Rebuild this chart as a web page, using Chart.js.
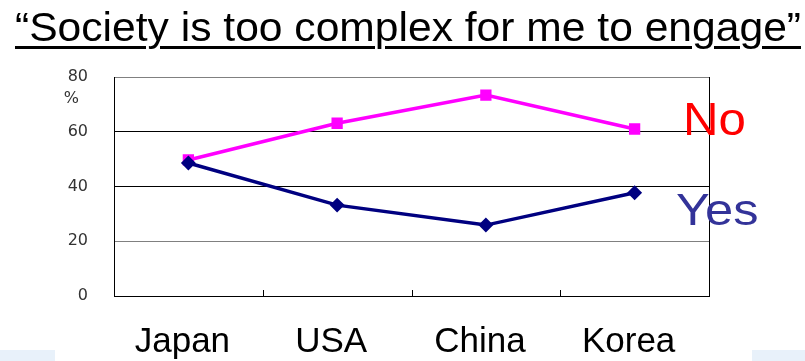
<!DOCTYPE html>
<html><head><meta charset="utf-8">
<script src="https://cdn.jsdelivr.net/npm/chart.js@4/dist/chart.umd.min.js"></script>
<style>
html,body{margin:0;padding:0;background:#fff;}
#wrap{position:relative;width:805px;height:361px;overflow:hidden;font-family:"Liberation Sans",Arial,sans-serif;}
#c{position:absolute;left:0;top:0;}
#title{position:absolute;left:15px;top:4px;font-size:41px;line-height:46px;color:#000;white-space:nowrap;text-decoration:underline;text-decoration-thickness:2.5px;text-underline-offset:5px;transform-origin:0 0;}
.lbl{position:absolute;white-space:nowrap;line-height:1;transform-origin:0 0;}
.bg{position:absolute;background:#e8f1fa;}
</style></head>
<body><div id="wrap">
<div class="bg" style="left:0;top:350px;width:55px;height:11px"></div>
<div class="bg" style="left:752px;top:350px;width:53px;height:11px"></div>
<canvas id="c" width="805" height="361"></canvas>
<div id="title">“Society is too complex for me to engage”</div>
<div class="lbl" style="left:683px;top:96px;font-size:46px;color:#ff0000;transform:scaleX(1.07)">No</div>
<div class="lbl" style="left:676px;top:188px;font-size:44px;color:#333399;transform:scaleX(1.15)">Yes</div>
</div>
<script>
const categories = ["Japan", "USA", "China", "Korea"];
const noValues = [49.7, 63.1, 73.4, 61.0];
const yesValues = [48.6, 33.2, 25.9, 37.7];
const yTicks = [0, 20, 40, 60, 80];

(function(){
  const t = document.getElementById('title');
  const w = t.getBoundingClientRect().width;
  t.style.transform = 'scaleX(' + (786 / w) + ')';
})();

const innerTicks = {
  id: 'innerTicks',
  afterDraw(chart) {
    const {ctx, chartArea, scales} = chart;
    const x = scales.x, y = scales.y;
    ctx.save();
    ctx.strokeStyle = '#000';
    ctx.lineWidth = 1;
    for (let i = 0; i < categories.length - 1; i++) {
      const px = Math.round((x.getPixelForValue(i) + x.getPixelForValue(i + 1)) / 2) + 0.5;
      ctx.beginPath();
      ctx.moveTo(px, chartArea.bottom);
      ctx.lineTo(px, chartArea.bottom - 6);
      ctx.stroke();
    }
    ctx.beginPath();
    ctx.moveTo(Math.round(chartArea.right) + 0.5, chartArea.top);
    ctx.lineTo(Math.round(chartArea.right) + 0.5, chartArea.bottom);
    ctx.stroke();
    ctx.fillStyle = '#333';
    ctx.font = '16px "DejaVu Sans", sans-serif';
    ctx.textAlign = 'right';
    ctx.textBaseline = 'middle';
    ctx.fillText('%', 79, y.getPixelForValue(80) + 22);
    ctx.restore();
  }
};

new Chart(document.getElementById('c'), {
  type: 'line',
  data: {
    labels: categories,
    datasets: [
      { label: 'Yes', data: yesValues, borderColor: '#000080', backgroundColor: '#000080', borderWidth: 3.5,
        pointStyle: 'rectRot', pointRadius: 5, pointHoverRadius: 5, tension: 0 },
      { label: 'No', data: noValues, borderColor: '#ff00ff', backgroundColor: '#ff00ff', borderWidth: 3.5,
        pointStyle: 'rect', pointRadius: 5.5, pointHoverRadius: 5.5, tension: 0 }
    ]
  },
  options: {
    responsive: false,
    animation: false,
    layout: { padding: { top: 77, right: 96, left: 0, bottom: 0 } },
    plugins: { legend: { display: false }, tooltip: { enabled: false }, title: { display: false } },
    scales: {
      x: {
        offset: true,
        grid: { display: false, drawTicks: false },
        border: { display: true, color: '#000', width: 1 },
        ticks: { color: '#000', font: { family: '"Liberation Sans", Arial, sans-serif', size: 35 }, padding: 25, labelOffset: -6, maxRotation: 0, autoSkip: false },
        afterFit(s) { s.height = 65; }
      },
      y: {
        min: 0, max: 80,
        afterBuildTicks(s) { s.ticks = yTicks.map(v => ({ value: v })); },
        grid: { drawTicks: false, color: c => (c.tick && (c.tick.value === 20 || c.tick.value === 80)) ? '#808080' : '#000', lineWidth: 1 },
        border: { display: true, color: '#000', width: 1 },
        ticks: { color: '#333', font: { family: '"DejaVu Sans", sans-serif', size: 16 }, padding: 26 },
        afterFit(s) { s.width = 114; }
      }
    }
  },
  plugins: [innerTicks]
});
</script>
</body></html>
